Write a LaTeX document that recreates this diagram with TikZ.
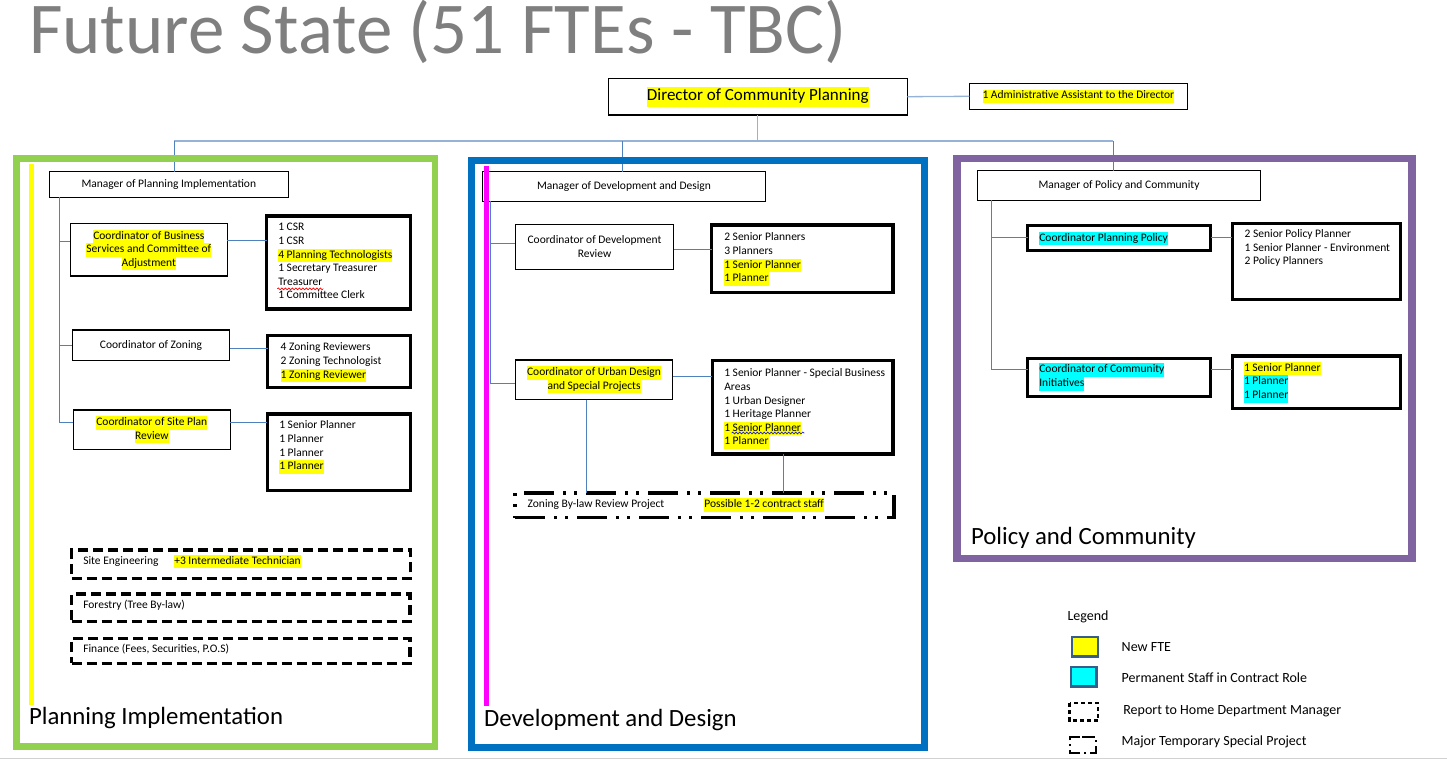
\documentclass[tikz,border=0pt]{standalone}
\usepackage{fontspec}
\setmainfont{Carlito}
\usetikzlibrary{decorations.pathmorphing}
\definecolor{linkcol}{HTML}{4F81BD}
\definecolor{linklt}{HTML}{95B3D7}
\definecolor{pigreen}{HTML}{92D050}
\definecolor{ddblue}{HTML}{0070C0}
\definecolor{pcpurple}{HTML}{8064A2}
\definecolor{titlegray}{HTML}{7F7F7F}
\definecolor{legborder}{HTML}{385D8A}
\definecolor{hlyellow}{HTML}{FFFF00}
\definecolor{hlcyan}{HTML}{00FFFF}
\definecolor{barmag}{HTML}{FF00FF}
\definecolor{wavered}{HTML}{FF0000}
\definecolor{waveblue}{HTML}{2020E0}
\newcommand\hly[1]{{\setlength{\fboxsep}{0pt}\colorbox{hlyellow}{\strut #1}}}
\newcommand\hlc[1]{{\setlength{\fboxsep}{0pt}\colorbox{hlcyan}{\strut #1}}}
\begin{document}
\begin{tikzpicture}[x=1pt,y=-1pt,
  every node/.style={inner sep=0pt, outer sep=0pt},
  small/.style={font=\fontsize{11.5}{13.6}\selectfont},
  thinbox/.style={draw=black, line width=1.2pt, small, align=center},
  thickbox/.style={draw=black, line width=3.3pt},
  dashbox/.style={draw=black, line width=3.3pt, dash pattern=on 10pt off 5pt},
  ddbox/.style={draw=black, line width=3.3pt, dash pattern=on 30pt off 9pt on 3pt off 8pt on 3pt off 9pt},
  stafftext/.style={small, align=left, anchor=north west},
  plain/.style={small, anchor=west},
  link/.style={draw=linkcol, line width=1pt},
  dirlink/.style={draw=linklt, line width=1.3pt},
  seclabel/.style={font=\fontsize{24.8}{29}\selectfont, anchor=west},
  legtext/.style={font=\fontsize{14}{17}\selectfont, anchor=west},
  wavy/.style={line width=0.7pt, decorate, decoration={snake, segment length=3.5pt, amplitude=0.9pt}},
]
\useasboundingbox (0,0) rectangle (1447,765);

% title
\node[anchor=base west, font=\fontsize{73}{86}\selectfont, text=titlegray] (title) at (29,54) {Future State (51 FTEs - TBC)};

% top level
\node[thinbox, minimum width=299, minimum height=36.7, font=\fontsize{17}{20}\selectfont] (dir) at (757.8,96.7) {\hly{Director of Community Planning}};
\node[thinbox, minimum width=218, minimum height=26, font=\fontsize{11.5}{13.5}\selectfont] (adm) at (1078.4,96.3) {\hly{1 Administrative Assistant to the Director}};

% managers
\node[thinbox, minimum width=239, minimum height=25.6] (mpi) at (168.8,184.5) {Manager of Planning Implementation};
\node[thinbox, minimum width=283.4, minimum height=29.6] (mdd) at (624,186.5) {Manager of Development and Design};
\node[thinbox, minimum width=283.4, minimum height=29.6] (mpc) at (1119,185.5) {Manager of Policy and Community};

% Planning Implementation
\node[thinbox, minimum width=157, minimum height=52.3] (cbs) at (148.8,249.9) {\hly{Coordinator of Business}\\\hly{Services and Committee of}\\\hly{Adjustment}};
\node[thinbox, minimum width=157.4, minimum height=30.3] (czon) at (151,345.2) {Coordinator of Zoning};
\node[thinbox, minimum width=157, minimum height=39.3] (cspr) at (151.8,429.7) {\hly{Coordinator of Site Plan}\\\hly{Review}};

\node[thickbox, minimum width=144, minimum height=93] (s1) at (338.7,262.5) {};
\node[stafftext] (s1t) at (278.3,221.3) {\strut 1 CSR\\1 CSR\\\hly{4 Planning Technologists}\\1 Secretary Treasurer\\Treasurer\\1 Committee Clerk};
\node[thickbox, minimum width=143, minimum height=52] (s2) at (339.2,361.7) {};
\node[stafftext] (s2t) at (280.7,341.3) {\strut 4 Zoning Reviewers\\2 Zoning Technologist\\\hly{1 Zoning Reviewer}};
\node[thickbox, minimum width=143.4, minimum height=76.7] (s3) at (339,452.3) {};
\node[stafftext] (s3t) at (279.3,419.3) {\strut 1 Senior Planner\\1 Planner\\1 Planner\\\hly{1 Planner}};

\node[dashbox, minimum width=339, minimum height=28.3] (se) at (241.2,564.2) {};
\node[plain] (set) at (83.3,561.5) {\strut Site Engineering};
\node[plain] (set2) at (174.3,561.5) {\hly{+3 Intermediate Technician}};
\node[dashbox, minimum width=338.3, minimum height=27.6] (fo) at (240.8,607.8) {};
\node[plain] (fot) at (83.3,605.8) {\strut Forestry (Tree By-law)};
\node[dashbox, minimum width=338.3, minimum height=24.9] (fi) at (240.8,650.8) {};
\node[plain] (fit) at (83.3,649.8) {\strut Finance (Fees, Securities, P.O.S)};

% Development and Design
\node[thinbox, minimum width=158.4, minimum height=45] (cdr) at (594.5,246.8) {Coordinator of Development\\Review};
\node[thinbox, minimum width=157.4, minimum height=39.7] (cud) at (594,379.8) {\hly{Coordinator of Urban Design}\\\hly{and Special Projects}};
\node[thickbox, minimum width=181.3, minimum height=67.3] (sdr) at (802.3,258.7) {};
\node[stafftext] (sdrt) at (724.3,231.3) {\strut 2 Senior Planners\\3 Planners\\\hly{1 Senior Planner}\\\hly{1 Planner}};
\node[thickbox, minimum width=180.7, minimum height=93.3] (sud) at (802.7,407.3) {};
\node[stafftext] (sudt) at (724.3,367.3) {\strut 1 Senior Planner - Special Business\\Areas\\1 Urban Designer\\1 Heritage Planner\\\hly{1 Senior Planner}\\\hly{1 Planner}};
\node[ddbox, minimum width=379, minimum height=24.7] (zbr) at (704.5,505.3) {};
\node[plain] (zbrt) at (527.7,505.2) {\strut Zoning By-law Review Project};
\node[plain] (zbrt2) at (704.3,505.2) {\hly{Possible 1-2 contract staff}};

% Policy and Community
\node[thickbox, line width=3pt, minimum width=183.3, minimum height=24.7] (cpp) at (1119.2,237.8) {};
\node[plain] (cppt) at (1039.3,238.4) {\hlc{Coordinator Planning Policy}};
\node[thickbox, line width=3pt, minimum width=183.3, minimum height=38.6] (cci) at (1119.2,377.5) {};
\node[stafftext] (ccit) at (1039.3,363.4) {\hlc{Coordinator of Community}\\\hlc{Initiatives}};
\node[thickbox, minimum width=168.6, minimum height=76] (spp) at (1316.5,261.2) {};
\node[stafftext] (sppt) at (1244.7,227.9) {\strut 2 Senior Policy Planner\\1 Senior Planner - Environment\\2 Policy Planners};
\node[thickbox, minimum width=168.6, minimum height=52.7] (sci) at (1316.5,382.2) {};
\node[stafftext] (scit) at (1244,361.8) {\hly{1 Senior Planner}\\\hlc{1 Planner}\\\hlc{1 Planner}};

% connectors - top
\coordinate (bar) at (757.8,141);
\coordinate (dropPI) at (174.3,141);
\coordinate (dropDD) at (622.2,141);
\coordinate (dropPC) at (1113.3,141);
\draw[dirlink] (dir.east) -- (adm.west);
\draw[dirlink] (dir.south) -- (bar);
\draw[dirlink] (dropPI) -- (dropPC);
\draw[link] (dropPI) -- (dropPI |- mpi.north);
\draw[link] (dropDD) -- (dropDD |- mdd.north);
\draw[link] (dropPC) -- (dropPC |- mpc.north);

% connectors - PI
\coordinate (vpiTop) at (mpi.south -| 59,0);
\coordinate (cbsIn) at ([yshift=8.2pt]cbs.west);
\coordinate (csprIn) at ([yshift=7.4pt]cspr.west);
\coordinate (cbsOut) at ([yshift=9.6pt]cbs.east);
\coordinate (czonOut) at ([yshift=-3.1pt]czon.east);
\coordinate (csprOut) at ([yshift=7.4pt]cspr.east);
\draw[link] (vpiTop) -- (csprIn -| vpiTop) -- (csprIn);
\draw[link] (cbsIn -| vpiTop) -- (cbsIn);
\draw[link] (czon.west -| vpiTop) -- (czon.west);
\draw[link] (cbsOut) -- (cbsOut -| s1.west);
\draw[link] (czonOut) -- (czonOut -| s2.west);
\draw[link] (csprOut) -- (csprOut -| s3.west);

% connectors - DD
\coordinate (vddTop) at (mdd.south -| 490.7,0);
\coordinate (cdrIn) at ([yshift=3.5pt]cdr.west);
\coordinate (cudIn) at ([yshift=-3.5pt]cud.west);
\coordinate (cdrOut) at ([yshift=-2.5pt]cdr.east);
\coordinate (cudOut) at ([yshift=3.8pt]cud.east);
\coordinate (cudDown) at (cud.south -| 586.3,0);
\coordinate (sudDown) at (sud.south -| 783.3,0);
\draw[link] (vddTop) -- (cudIn -| vddTop) -- (cudIn);
\draw[link] (cdrIn -| vddTop) -- (cdrIn);
\draw[link] (cdrOut) -- (cdrOut -| sdr.west);
\draw[link] (cudOut) -- (cudOut -| sud.west);
\draw[link] (cudDown) -- (cudDown |- zbr.north);
\draw[link] (sudDown) -- (sudDown |- zbr.north);

% connectors - PC
\coordinate (vpcTop) at (mpc.south -| 991.3,0);
\coordinate (cciIn) at ([yshift=8.5pt]cci.west);
\coordinate (cciOut) at ([yshift=8.5pt]cci.east);
\draw[link] (vpcTop) -- (cciIn -| vpcTop) -- (cciIn);
\draw[link] (cpp.west -| vpcTop) -- (cpp.west);
\draw[link] (cpp.east) -- (cpp.east -| spp.west);
\draw[link] (cciOut) -- (cciOut -| sci.west);

% frames
\draw[draw=pigreen, line width=6.7pt] (16.5,158.3) rectangle (435,746.5);
\draw[draw=ddblue, line width=7pt] (471.7,160) rectangle (924,747);
\draw[draw=pcpurple, line width=7.3pt] (957,158.7) rectangle (1412,558.5);
\draw[draw=hlyellow, line width=5pt] (31.5,164) -- (31.5,705);
\draw[draw=barmag, line width=5pt] (486.5,166) -- (486.5,706);

% section labels
\node[seclabel] (lpi) at (29,718.3) {Planning Implementation};
\node[seclabel] (ldd) at (484,720) {Development and Design};
\node[seclabel] (lpc) at (971,538.3) {Policy and Community};

% spell-check marks
\draw[wavy, draw=wavered] (277.3,288.8) -- (323.3,288.8);
\draw[wavy, draw=waveblue] (731.7,433) -- (804.3,433);

% legend
\node[legtext] (leg) at (1067.5,617.3) {Legend};
\draw[draw=legborder, line width=2.3pt, fill=hlyellow] (1072.2,637.2) rectangle (1097.8,656.5);
\node[legtext] (leg1) at (1121.7,646.7) {New FTE};
\draw[draw=legborder, line width=2.3pt, fill=hlcyan] (1071.2,667.2) rectangle (1096.5,686.5);
\node[legtext] (leg2) at (1121.7,677.3) {Permanent Staff in Contract Role};
\draw[line width=2.5pt, dash pattern=on 4pt off 3pt] (1069.5,703) rectangle (1098,720.5);
\node[legtext] (leg3) at (1123.3,711.7) {Report to Home Department Manager};
\draw[line width=2.5pt, dash pattern=on 13pt off 4pt on 2pt off 4pt] (1082,737) -- (1096,737) -- (1096,753) -- (1070,753) -- (1070,737) -- (1082,737);
\node[legtext] (leg4) at (1121.7,742.3) {Major Temporary Special Project};

% bottom rule
\draw[draw=black!18, line width=1.5pt] (0,758.3) -- (1447,758.3);
\end{tikzpicture}
\end{document}
